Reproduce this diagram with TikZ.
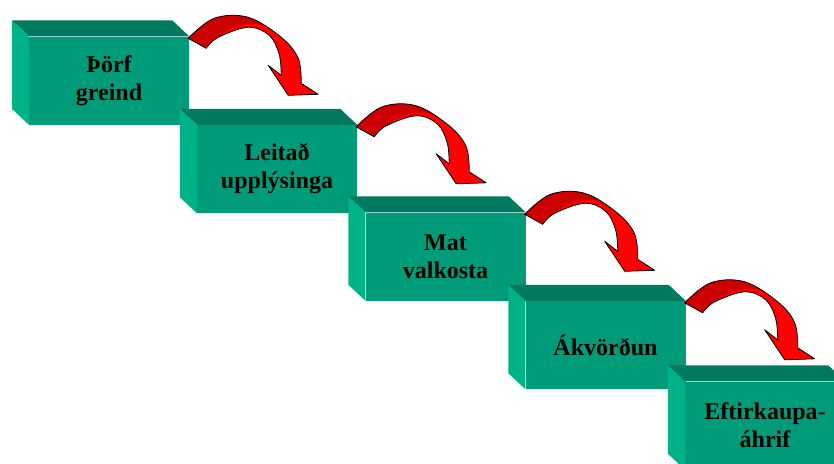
\documentclass[tikz,border=0pt]{standalone}
\usepackage{fontspec}
\setmainfont{Liberation Serif}
\definecolor{boxfront}{RGB}{0,155,120}
\definecolor{boxtop}{RGB}{0,122,94}
\definecolor{boxside}{RGB}{0,178,135}
\definecolor{arrowdark}{RGB}{204,0,0}
\definecolor{arrowlight}{RGB}{255,0,0}

% outline of the curved arrow, relative to the front top-right corner of a box
\newcommand\arrowoutline{plot[smooth,tension=0.6] coordinates {(-1,2) (25,-18) (59,-19) (92,1) (109,22) (112,47)}
  -- (129,58) -- (99,59) -- (79,29)
  -- plot[smooth,tension=0.6] coordinates {(92,39) (90,18) (80,-1) (59,-9) (29,1) (17,12)} -- cycle}

% top and left faces of a block whose front face is the node #1
\newcommand\blockfaces[1]{%
  \fill[boxtop] (#1.north west) -- (#1.north east) -- ++(-17,-16)
    -- ([shift={(-17,-16)}]#1.north west) -- cycle;
  \fill[boxside] (#1.north west) -- ([shift={(-17,-16)}]#1.north west)
    -- ([shift={(-17,-16)}]#1.south west) -- (#1.south west) -- cycle;}

\begin{document}
\begin{tikzpicture}[x=1pt,y=-1pt,
  frontface/.style={fill=boxfront, minimum width=160pt, minimum height=88pt,
    inner sep=0pt, align=center, text=black,
    font=\bfseries\fontsize{24}{28}\selectfont},
  turnarrow/.pic={
    \fill[arrowlight] \arrowoutline;
    \begin{scope}
      \clip \arrowoutline;
      \fill[arrowdark] (-10,30) -- (-10,-40) -- (80,-40) -- (75,-11)
        .. controls (60,-15) and (45,-10) .. (35,-4) -- (20,30) -- cycle;
    \end{scope}
    \draw[black, line width=0.8pt, line join=round] \arrowoutline;
  }]
\clip (0,0) rectangle (834,463);

\node[frontface] (b1) at (109,80.5) {Þörf\\greind};
\blockfaces{b1}
\node[frontface] (b2) at (277,169) {Leitað\\upplýsinga};
\blockfaces{b2}
\node[frontface] (b3) at (445.5,256.5) {Mat\\valkosta};
\blockfaces{b3}
\node[frontface] (b4) at (605.5,345) {Ákvörðun};
\blockfaces{b4}
\node[frontface] (b5) at (765,425.5) {Eftirkaupa-\\áhrif};
\blockfaces{b5}

\pic at (b1.north east) {turnarrow};
\pic at (b2.north east) {turnarrow};
\pic at (b3.north east) {turnarrow};
\pic at (b4.north east) {turnarrow};
\end{tikzpicture}
\end{document}
